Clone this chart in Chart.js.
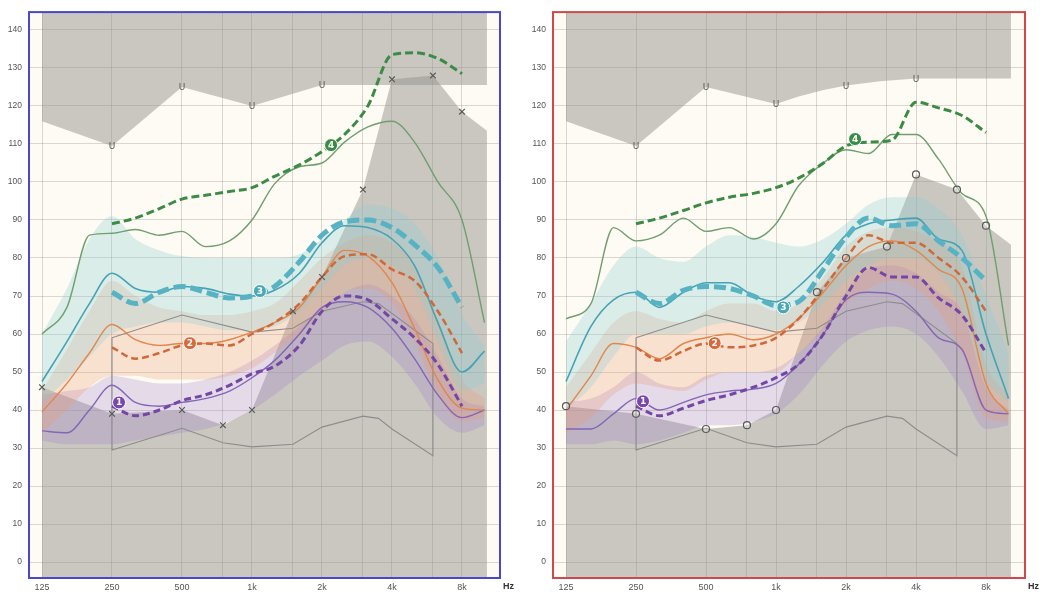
<!DOCTYPE html>
<html>
<head>
<meta charset="utf-8">
<script src="https://cdn.jsdelivr.net/npm/chart.js@4.4.1/dist/chart.umd.min.js"></script>
<style>
html, body { margin: 0; padding: 0; background: #fff; }
#wrap { position: relative; width: 1040px; height: 594px; overflow: hidden; }
#cL { position: absolute; left: 0; top: 0; }
#cR { position: absolute; left: 524px; top: 0; }
</style>
</head>
<body>
<div id="wrap">
	<canvas id="cL" width="520" height="594"></canvas>
	<canvas id="cR" width="516" height="594"></canvas>
</div>
<script>
// ---- shared axes ----
const freqs = [125, 160, 200, 250, 315, 400, 500, 630, 800, 1000, 1250, 1600, 2000, 2500, 3150, 4000, 5000, 6300, 8000, 10000];
const dashFreqs = [250, 315, 400, 500, 630, 800, 1000, 1250, 1600, 2000, 2500, 3150, 4000, 5000, 6300, 8000];
const xTicks = [125, 250, 500, 750, 1000, 1500, 2000, 3000, 4000, 6000, 8000];
const xLabels = { 125: '125', 250: '250', 500: '500', 1000: '1k', 2000: '2k', 4000: '4k', 8000: '8k' };
const yTicks = [0, 10, 20, 30, 40, 50, 60, 70, 80, 90, 100, 110, 120, 130, 140];

// audiometric thresholds (X left / O right)
const thrFreqs = [125, 250, 500, 750, 1000, 1500, 2000, 3000, 4000, 6000, 8000];
const thrL = [46, 39, 40, 36, 40, 66, 75, 98, 127, 128, 118.5];
const thrR = [41, 39, 35, 36, 40, 71, 80, 83, 102, 98, 88.5];
const edgeFreq = 10240;
const thrEdgeL = 113.5;
const thrEdgeR = 83.5;

// discomfort levels (U)
const uclFreqsL = [250, 500, 1000, 2000];
const uclL = [109.5, 125, 120, 125.5];
const uclEdgeFreqsL = [125, 250, 500, 1000, 2000, 10240];
const uclEdgeL = [116, 109.5, 125, 120, 125.5, 125.5];
const uclFreqsR = [250, 500, 1000, 2000, 4000];
const uclR = [109.5, 125, 120.5, 125.4, 127.2];
const uclEdgeFreqsR = [125, 250, 500, 1000, 1250, 1600, 2000, 2800, 4000, 10240];
const uclEdgeR = [116, 109.5, 125, 120.5, 122.5, 124.2, 125.4, 126.5, 127.2, 127.2];

// speech range outline
const speechFreqs = [250, 500, 1000, 1500, 2000, 3000, 3500, 6000, 6000, 4000, 3500, 3000, 2000, 1500, 1000, 750, 500, 250, 250];
const speechLevels = [59, 65, 60.5, 61.5, 66, 68.5, 68, 57.5, 28, 35, 37.8, 38.4, 35.5, 31, 30.3, 31.4, 35.2, 29.5, 59];

// ---- left panel curves ----
const greenSolidL = [60, 67, 86, 86.5, 87.5, 86, 87, 83, 84.5, 90, 99.5, 104, 105, 110.5, 114.5, 116, 110.5, 100, 90, 63];
const greenDashL = [89, 90.5, 93, 95.5, 96.5, 97.5, 98.5, 101.5, 104.5, 108, 112.5, 120, 133.5, 134, 132.5, 128.5];
const tealSolidL = [47.5, 58, 68, 76, 72, 71, 72.5, 72, 70.5, 70, 71.5, 76, 84, 88.5, 88, 85, 78, 63, 50, 55.5];
const tealDashL = [71, 68, 71, 72.5, 71, 69.5, 70, 72.5, 79, 86, 89.5, 90, 88, 83.5, 77.5, 67];
const orangeSolidL = [39.5, 47, 55, 62.5, 58.5, 57, 57.5, 57.5, 58.5, 60.5, 63, 67, 75, 82, 80.5, 73.5, 61.5, 48, 40.5, 40];
const orangeDashL = [56.5, 53.5, 55, 57, 57.5, 57, 60, 63, 68, 75, 80.5, 81, 77, 74, 66, 55];
const purpleSolidL = [34.5, 34, 40, 46.5, 42, 41, 42, 43, 45, 48.5, 53, 60, 67, 68.5, 67, 61.5, 53.5, 44, 38, 40];
const purpleDashL = [41, 38.5, 40, 42.5, 44, 46.5, 49.5, 51.5, 57, 66, 70, 69, 64, 59, 52, 41];

const tealHiL = [60, 72, 85, 91, 85, 82, 80.5, 80, 80, 80, 80, 81, 85, 90, 94, 93, 89, 80, 65, 57];
const tealLoL = [42, 48, 54, 60, 62, 63, 63, 62, 61, 61, 62, 66, 72, 78, 80, 78, 72, 58, 45, 47];
const orangeHiL = [45, 56, 66, 74, 70, 67, 66, 65, 65, 66, 68, 74, 80, 84, 86, 84, 78, 64, 48, 43];
const orangeLoL = [34, 40, 46, 49, 49, 48, 48, 48, 49, 51, 55, 60, 66, 71, 72, 68, 58, 44, 37, 38];
const purpleHiL = [44, 45, 46, 49, 48, 47, 47, 48, 50, 53, 57, 62, 67, 71, 73, 70, 64, 54, 43, 41];
const purpleLoL = [32, 31, 31, 31, 32, 33, 34, 35, 37, 40, 44, 49, 53, 57, 58, 54, 47, 38, 34, 36];

const badgeFreqsL = [268, 541, 1082, 2188];
const badgeLevelsL = [42, 57.6, 71.3, 109.7];

// ---- right panel curves ----
const greenSolidR = [64, 68, 88, 84.5, 86, 90.5, 87, 88, 85, 89, 99, 105, 108.5, 107.5, 112.5, 112.5, 106, 97, 91, 57];
const greenDashR = [89, 90.5, 92.5, 94.5, 96, 97, 98.5, 101, 105, 109.5, 110.5, 111, 121, 119.5, 117.5, 113];
const tealSolidR = [47.5, 62, 69, 71, 67, 71, 73.5, 73.5, 70, 68.5, 72.5, 79, 86, 89, 90, 90.5, 85, 82, 60, 43];
const tealDashR = [71, 68, 71.5, 72.5, 72, 70, 67.5, 68.5, 77, 85.5, 90.5, 88.5, 89, 84.5, 80, 74];
const orangeSolidR = [40, 49, 57.5, 56.5, 53.5, 57.5, 59, 60, 58.5, 60, 64, 71, 78, 83, 84.5, 82, 77, 72, 47, 39];
const orangeDashR = [56.5, 53, 55.5, 57.5, 56.5, 57, 59, 64, 72, 80, 86, 84, 84, 80, 75, 66];
const purpleSolidR = [35, 35, 39, 43, 40, 42, 44, 45, 45.5, 47, 52, 60, 69, 71, 70.5, 66, 59, 56, 40, 39];
const purpleDashR = [41, 38.5, 40.5, 42.5, 44, 46, 48.5, 52, 60, 70, 77.5, 75, 75, 69.5, 65, 55];

const tealHiR = [58, 68, 78, 83, 80, 79, 83, 86, 85.5, 84, 83, 85, 89, 94, 96, 96, 93, 86, 70, 55];
const tealLoR = [40, 46, 54, 60, 60, 60, 62, 63, 62, 61, 63, 68, 74, 78, 80, 80, 76, 66, 48, 42];
const orangeHiR = [46, 55, 63, 66, 64, 63, 66, 68, 68, 66, 68, 75, 83, 87, 88, 87, 84, 78, 52, 44];
const orangeLoR = [34, 38, 44, 47, 46, 45, 48, 50, 50, 50, 55, 61, 68, 72, 74, 72, 66, 55, 38, 37];
const purpleHiR = [42, 43, 46, 50, 47, 46, 49, 50, 50, 51, 55, 62, 71, 77, 78, 76, 71, 66, 46, 40];
const purpleLoR = [31, 31, 32, 31, 32, 34, 36, 36, 37, 39, 44, 52, 58, 61, 62, 60, 54, 45, 35, 36];

const badgeFreqsR = [268, 545, 1075, 2188];
const badgeLevelsR = [42.3, 57.6, 67, 111.3];
const badgeText = ['1', '2', '3', '4'];

// ---- styles ----
const CREAM = '#fdfbf3';
const GRAY_FILL = 'rgba(150,147,141,0.5)';
const GRID = 'rgba(0,0,0,0.14)';
const NONE = 'rgba(0,0,0,0)';
const COL = {
	green: { solid: '#6f9f70', dash: '#3b8b45' },
	teal: { solid: '#47a2b4', dash: '#57b3c3', band: 'rgba(140,205,212,0.3)' },
	orange: { solid: '#e0874e', dash: '#d0683a', band: 'rgba(240,150,110,0.26)' },
	purple: { solid: '#8466b6', dash: '#7446a6', band: 'rgba(160,125,200,0.26)' },
};
const badgeColors = ['#7a46b0', '#d8693a', '#48a8b8', '#3a8c45'];

Chart.defaults.font.family = '"Liberation Sans", Arial, sans-serif';

function pts (xs, ys) {
	return xs.map((x, i) => ({ x: x, y: ys[i] }));
}

function curve (xs, ys, extra) {
	return Object.assign({
		data: pts(xs, ys),
		pointRadius: 0,
		pointHoverRadius: 0,
		fill: false,
		cubicInterpolationMode: 'monotone',
		borderWidth: 1.4,
	}, extra);
}

// panel frame, cream background, U glyphs, badge numbers, Hz label
let panelDeco = {
	id: 'panelDeco',
	beforeDraw (chart) {
		let { ctx, chartArea: a } = chart;
		ctx.save();
		ctx.fillStyle = CREAM;
		ctx.fillRect(a.left, a.top, a.right - a.left, a.bottom - a.top);
		ctx.restore();
	},
	afterDatasetsDraw (chart) {
		let { ctx } = chart;
		ctx.save();
		ctx.textAlign = 'center';
		ctx.textBaseline = 'middle';
		chart.data.datasets.forEach((ds, i) => {
			if (!ds.glyph && !ds.badges) { return; }
			let meta = chart.getDatasetMeta(i);
			meta.data.forEach((pt, j) => {
				if (ds.glyph) {
					ctx.font = '9px "DejaVu Sans", sans-serif';
					ctx.fillStyle = '#5a5a5a';
					ctx.fillText(ds.glyph, pt.x, pt.y + 1);
				} else {
					ctx.font = 'bold 9px "DejaVu Sans", sans-serif';
					ctx.fillStyle = '#fff';
					ctx.fillText(ds.badges[j], pt.x, pt.y + 0.5);
				}
			});
		});
		ctx.restore();
	},
	afterDraw (chart, args, opts) {
		let { ctx, chartArea: a } = chart;
		ctx.save();
		ctx.lineWidth = 2;
		ctx.strokeStyle = opts.frame;
		ctx.strokeRect(a.left, a.top, a.right - a.left, a.bottom - a.top);
		ctx.font = 'bold 9px "Liberation Sans", sans-serif';
		ctx.fillStyle = '#333';
		ctx.textBaseline = 'middle';
		ctx.fillText('Hz', a.right + 3, a.bottom + 9);
		ctx.restore();
	},
};

function buildDatasets (p) {
	let ds = [];

	// gray area above the discomfort line
	ds.push(curve(p.uclEdgeF, p.uclEdge, { borderColor: NONE, backgroundColor: GRAY_FILL, fill: 'end', tension: 0, cubicInterpolationMode: 'default', order: 9 }));
	// gray area below the thresholds
	ds.push(curve(thrFreqs.concat([edgeFreq]), p.thr.concat([p.thrEdge]), { borderColor: NONE, backgroundColor: GRAY_FILL, fill: 'start', tension: 0, cubicInterpolationMode: 'default', order: 9 }));

	// speech ranges of each band
	[['teal', p.tealHi, p.tealLo], ['orange', p.orangeHi, p.orangeLo], ['purple', p.purpleHi, p.purpleLo]].forEach(([k, hi, lo]) => {
		ds.push(curve(freqs, hi, { borderColor: NONE, order: 8 }));
		ds.push(curve(freqs, lo, { borderColor: NONE, backgroundColor: COL[k].band, fill: '-1', order: 8 }));
	});

	// speech outline
	ds.push(curve(speechFreqs, speechLevels, { borderColor: '#8d8d8d', borderWidth: 1.1, tension: 0, cubicInterpolationMode: 'default', order: 7 }));

	// targets (solid)
	ds.push(curve(freqs, p.greenSolid, { borderColor: COL.green.solid, order: 6 }));
	ds.push(curve(freqs, p.tealSolid, { borderColor: COL.teal.solid, borderWidth: 1.6, order: 6 }));
	ds.push(curve(freqs, p.orangeSolid, { borderColor: COL.orange.solid, order: 6 }));
	ds.push(curve(freqs, p.purpleSolid, { borderColor: COL.purple.solid, order: 6 }));

	// measured (dashed)
	ds.push(curve(dashFreqs, p.greenDash, { borderColor: COL.green.dash, borderWidth: 3, borderDash: [8, 4], order: 5 }));
	ds.push(curve(dashFreqs, p.tealDash, { borderColor: COL.teal.dash, borderWidth: 5, borderDash: [12, 5], order: 5 }));
	ds.push(curve(dashFreqs, p.orangeDash, { borderColor: COL.orange.dash, borderWidth: 2.5, borderDash: [7, 4], order: 5 }));
	ds.push(curve(dashFreqs, p.purpleDash, { borderColor: COL.purple.dash, borderWidth: 3, borderDash: [7, 4], order: 5 }));

	// threshold markers
	ds.push({
		data: pts(thrFreqs, p.thr), showLine: false, pointStyle: p.markStyle, pointRadius: p.markRadius,
		pointBorderColor: '#5a5a5a', pointBackgroundColor: 'rgba(255,255,255,0.25)', pointBorderWidth: 1.2, order: 3,
	});
	// U glyphs
	ds.push({ data: pts(p.uclF, p.ucl), showLine: false, pointRadius: 0, glyph: 'U', order: 3 });
	// numbered badges
	ds.push({
		data: pts(p.badgeF, p.badgeY), showLine: false, pointStyle: 'circle', pointRadius: 6.5,
		pointBackgroundColor: badgeColors, pointBorderColor: '#fff', pointBorderWidth: 1, badges: badgeText, order: 0,
	});
	return ds;
}

function makeChart (el, p, frame, padRight, xMax) {
	return new Chart(el, {
		type: 'line',
		data: { datasets: buildDatasets(p) },
		options: {
			responsive: false,
			animation: false,
			events: [],
			layout: { padding: { top: 9, right: padRight, bottom: 0, left: 0 } },
			plugins: {
				legend: { display: false },
				tooltip: { enabled: false },
				panelDeco: { frame: frame },
			},
			scales: {
				x: {
					type: 'logarithmic',
					min: 109.9,
					max: xMax,
					afterBuildTicks: (s) => { s.ticks = xTicks.map(v => ({ value: v })); },
					afterFit: (s) => { s.height = 16; },
					grid: { color: GRID, drawTicks: false },
					border: { display: false },
					ticks: {
						autoSkip: false, maxRotation: 0, padding: 4, color: '#555',
						font: { size: 9 },
						callback: (v) => xLabels[v] || '',
					},
				},
				y: {
					min: -4.2,
					max: 144.7,
					afterBuildTicks: (s) => { s.ticks = yTicks.map(v => ({ value: v })); },
					afterFit: (s) => { s.width = 29; },
					grid: { color: GRID, drawTicks: false },
					border: { display: false },
					ticks: { padding: 7, color: '#555', font: { size: 8.5 } },
				},
			},
		},
		plugins: [ panelDeco ],
	});
}

makeChart(document.getElementById('cL'), {
	uclF: uclFreqsL, ucl: uclL, uclEdgeF: uclEdgeFreqsL, uclEdge: uclEdgeL,
	thr: thrL, thrEdge: thrEdgeL, markStyle: 'crossRot', markRadius: 4,
	tealHi: tealHiL, tealLo: tealLoL, orangeHi: orangeHiL, orangeLo: orangeLoL, purpleHi: purpleHiL, purpleLo: purpleLoL,
	greenSolid: greenSolidL, tealSolid: tealSolidL, orangeSolid: orangeSolidL, purpleSolid: purpleSolidL,
	greenDash: greenDashL, tealDash: tealDashL, orangeDash: orangeDashL, purpleDash: purpleDashL,
	badgeF: badgeFreqsL, badgeY: badgeLevelsL,
}, '#4848c8', 20, 11657);

makeChart(document.getElementById('cR'), {
	uclF: uclFreqsR, ucl: uclR, uclEdgeF: uclEdgeFreqsR, uclEdge: uclEdgeR,
	thr: thrR, thrEdge: thrEdgeR, markStyle: 'circle', markRadius: 3.5,
	tealHi: tealHiR, tealLo: tealLoR, orangeHi: orangeHiR, orangeLo: orangeLoR, purpleHi: purpleHiR, purpleLo: purpleLoR,
	greenSolid: greenSolidR, tealSolid: tealSolidR, orangeSolid: orangeSolidR, purpleSolid: purpleSolidR,
	greenDash: greenDashR, tealDash: tealDashR, orangeDash: orangeDashR, purpleDash: purpleDashR,
	badgeF: badgeFreqsR, badgeY: badgeLevelsR,
}, '#d04848', 15, 11770);
</script>
</body>
</html>
